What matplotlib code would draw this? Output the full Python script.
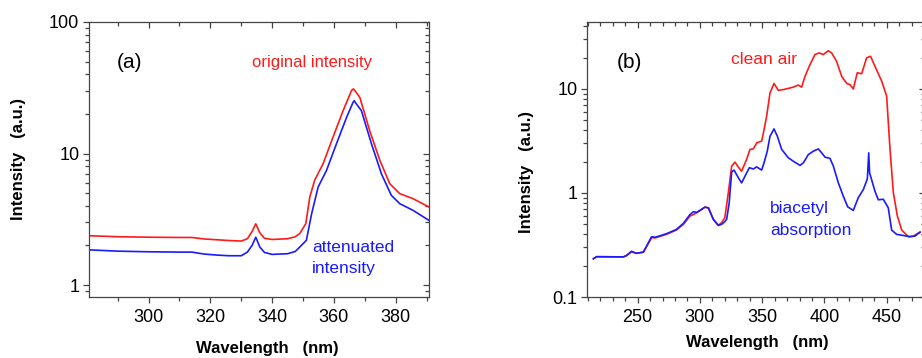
import matplotlib
matplotlib.use("Agg")
import matplotlib.pyplot as plt
from matplotlib.ticker import FixedLocator, MultipleLocator, LogLocator, NullFormatter, FixedFormatter

plt.rcParams['font.family'] = ['Liberation Sans', 'DejaVu Sans']

# ---- Panel (a) data ----
wl_orig = [281, 290, 300, 310, 314, 318, 322, 326, 330, 332, 333.5, 334.7, 336, 337.5,
           340, 345, 347.5, 349, 350.9, 352.2, 353.8, 356.5, 359.7, 363, 365.7, 366.3,
           366.8, 368.4, 371.6, 374.9, 378.1, 381.3, 385.6, 390.8]
original_a = [2.37, 2.33, 2.31, 2.30, 2.30, 2.24, 2.21, 2.18, 2.16, 2.25, 2.55, 2.92, 2.5, 2.27,
              2.22, 2.25, 2.33, 2.47, 2.93, 4.67, 6.28, 8.36, 13.3, 21.2, 30.1, 31.0,
              30.1, 26.7, 14.9, 8.85, 5.89, 4.96, 4.54, 3.92]

wl_att = [281, 290, 300, 310, 314, 318, 322, 326, 330, 332, 333.5, 334.7, 336, 337.5,
          340, 345, 347.5, 349, 351.1, 352.8, 354.9, 357.6, 360.8, 364.1, 366.2, 366.6,
          366.9, 368.9, 372.2, 375.4, 378.6, 381.3, 385.6, 390.8]
attenuated_a = [1.85, 1.81, 1.79, 1.78, 1.78, 1.72, 1.69, 1.67, 1.67, 1.78, 2.0, 2.31, 1.95, 1.77,
                1.71, 1.73, 1.80, 1.95, 2.19, 3.49, 5.56, 7.43, 11.8, 18.8, 24.5, 25.2,
                24.5, 21.2, 11.8, 7.0, 4.81, 4.16, 3.70, 3.10]

# ---- Panel (b) data ----
wl_clean = [214.4, 217, 238.5, 241, 245, 249, 254.6, 261.2, 264, 273, 281, 286.7, 292, 294.7,
            297.4, 304, 306.8, 310.8, 314.8, 317.5, 320, 322.8, 325.5, 328.2, 330.3, 333.5,
            337.5, 340.2, 342.9, 345.6, 349.6, 351, 353.6, 356.3, 359.5, 363, 367, 375, 379,
            381.7, 384.4, 388.4, 392.4, 395.9, 399.1, 403.1, 405.8, 409.8, 413.9, 417.9,
            420.5, 423.2, 426.4, 429.9, 433.9, 437.1, 440.6, 446, 450, 452.7, 455.4, 458.6,
            462.1, 467.4, 471.4, 476.8]
clean_air = [0.233, 0.244, 0.243, 0.25, 0.272, 0.263, 0.27, 0.372, 0.37, 0.40, 0.44, 0.499, 0.60, 0.62,
             0.645, 0.73, 0.72, 0.557, 0.488, 0.52, 0.578, 1.0, 1.81, 1.98, 1.81, 1.62,
             2.10, 2.62, 2.65, 3.03, 3.15, 3.78, 5.47, 9.16, 11.3, 9.70, 9.85, 10.4, 10.9,
             10.4, 13.2, 17.1, 21.4, 22.2, 21.4, 23.3, 22.2, 18.4, 13.2, 11.3,
             11.0, 10.0, 14.3, 14.0, 19.9, 20.6, 16.5, 11.9, 8.51, 2.62, 1.0, 0.60,
             0.44, 0.38, 0.385, 0.42]

wl_bia = [214.4, 217, 238.5, 241, 245, 249, 254.6, 261.2, 264, 273, 281, 286.7, 292, 294.7,
          297.4, 304, 306.8, 310.8, 314.8, 317.5, 320, 321.5, 323.5, 325.5, 327.4, 330.9,
          333.5, 336.2, 339.7, 342.9, 345.6, 349.6, 351.5, 354.1, 356.3, 359.5, 362.2,
          365.7, 371, 375, 380.4, 383.1, 387.1, 391.1, 395.1, 397.8, 400.5, 404.5, 407.2,
          411.2, 415.2, 418.7, 423.2, 427.2, 431.3, 434.5, 435.6, 436.3, 437.1, 440.6,
          443.3, 447.3, 451.3, 454, 458, 463.4, 468.7, 472.7, 476.8]
biacetyl = [0.233, 0.244, 0.243, 0.25, 0.275, 0.263, 0.27, 0.38, 0.375, 0.405, 0.445, 0.51, 0.62, 0.66,
            0.65, 0.73, 0.72, 0.557, 0.488, 0.50, 0.53, 0.56, 0.80, 1.59, 1.66, 1.40,
            1.25, 1.45, 1.75, 1.70, 1.78, 1.66, 1.95, 2.52, 3.51, 4.13, 3.51,
            2.62, 2.18, 2.02, 1.84, 1.95, 2.34, 2.52, 2.65, 2.43, 2.21, 2.15, 1.81,
            1.25, 0.93, 0.736, 0.68, 0.90, 1.08, 1.37, 2.43, 1.55, 1.45, 1.04,
            0.86, 0.87, 0.72, 0.44, 0.40, 0.39, 0.38, 0.385, 0.42]

RED = '#ff1a1a'
BLUE = '#1a1aff'
W, H = 922, 358
fig = plt.figure(figsize=(W / 100, H / 100), dpi=100)


def px_rect(l, r, t, b):
    return [l / W, 1 - b / H, (r - l) / W, (b - t) / H]


def style_axes(ax, xmajor, xminor, ylabels_ticks, ylabels):
    ax.set_yscale('log')
    for s in ax.spines.values():
        s.set_color('#444444')
        s.set_linewidth(0.9)
    ax.xaxis.set_major_locator(MultipleLocator(xmajor))
    ax.xaxis.set_minor_locator(MultipleLocator(xminor))
    ax.yaxis.set_major_locator(FixedLocator(ylabels_ticks))
    ax.yaxis.set_major_formatter(FixedFormatter(ylabels))
    ax.yaxis.set_minor_locator(LogLocator(base=10, subs=range(2, 10)))
    ax.yaxis.set_minor_formatter(NullFormatter())
    ax.tick_params(which='major', direction='out', length=4, width=0.9, color='#444444',
                   labelsize=13, pad=3)
    ax.tick_params(which='minor', direction='out', length=3, width=0.9, color='#444444')
    ax.tick_params(axis='x', pad=5)
    # inward mirrored ticks on top and right
    top = ax.secondary_xaxis('top')
    top.xaxis.set_major_locator(MultipleLocator(xmajor))
    top.xaxis.set_minor_locator(MultipleLocator(xminor))
    top.tick_params(which='both', direction='in', labeltop=False, width=0.9, color='#444444')
    top.tick_params(which='major', length=4)
    top.tick_params(which='minor', length=3)
    top.spines['top'].set_visible(False)
    right = ax.secondary_yaxis('right')
    right.yaxis.set_major_locator(FixedLocator(ylabels_ticks))
    right.yaxis.set_minor_locator(LogLocator(base=10, subs=range(2, 10)))
    right.tick_params(which='both', direction='in', labelright=False, width=0.9, color='#444444')
    right.tick_params(which='major', length=4)
    right.tick_params(which='minor', length=3)
    right.spines['right'].set_visible(False)


# Panel (a)
ax1 = fig.add_axes(px_rect(89, 429, 22, 297))
ax1.plot(wl_orig, original_a, color=RED, lw=1.2)
ax1.plot(wl_att, attenuated_a, color=BLUE, lw=1.2)
ax1.set_xlim(280.7, 390.8)
ax1.set_ylim(0.811, 100)
style_axes(ax1, 20, 10, [1, 10, 100], ['1', '10', '100'])

# Panel (b)
ax2 = fig.add_axes(px_rect(587, 925, 22, 297))
ax2.plot(wl_clean, clean_air, color=RED, lw=1.2)
ax2.plot(wl_bia, biacetyl, color=BLUE, lw=1.2)
ax2.set_xlim(209.3, 480.8)
ax2.set_ylim(0.1, 44)
style_axes(ax2, 50, 10, [0.1, 1, 10], ['0.1', '1', '10'])


def ftext(x, y, s, **kw):
    fig.text(x / W, 1 - y / H, s, **kw)


# Axis labels
ftext(18, 159, 'Intensity   (a.u.)', rotation=90, ha='center', va='center',
      fontsize=12, fontweight='bold')
ftext(267, 349, 'Wavelength   (nm)', ha='center', va='center', fontsize=12, fontweight='bold')
ftext(526, 172, 'Intensity   (a.u.)', rotation=90, ha='center', va='center',
      fontsize=12, fontweight='bold')
ftext(757, 343, 'Wavelength   (nm)', ha='center', va='center', fontsize=12, fontweight='bold')

# Annotations
ftext(130, 62, '(a)', ha='center', va='center', fontsize=15)
ftext(629, 62, '(b)', ha='center', va='center', fontsize=15)
ftext(252, 63, 'original intensity', ha='left', va='center', fontsize=12, color=RED)
ftext(312, 248, 'attenuated', ha='left', va='center', fontsize=12.5, color=BLUE)
ftext(312, 269, 'intensity', ha='left', va='center', fontsize=12.5, color=BLUE)
ftext(731, 59, 'clean air', ha='left', va='center', fontsize=12.5, color=RED)
ftext(770, 208, 'biacetyl', ha='left', va='center', fontsize=12.5, color=BLUE)
ftext(770, 230, 'absorption', ha='left', va='center', fontsize=12.5, color=BLUE)

fig.savefig('out.png', dpi=100)
